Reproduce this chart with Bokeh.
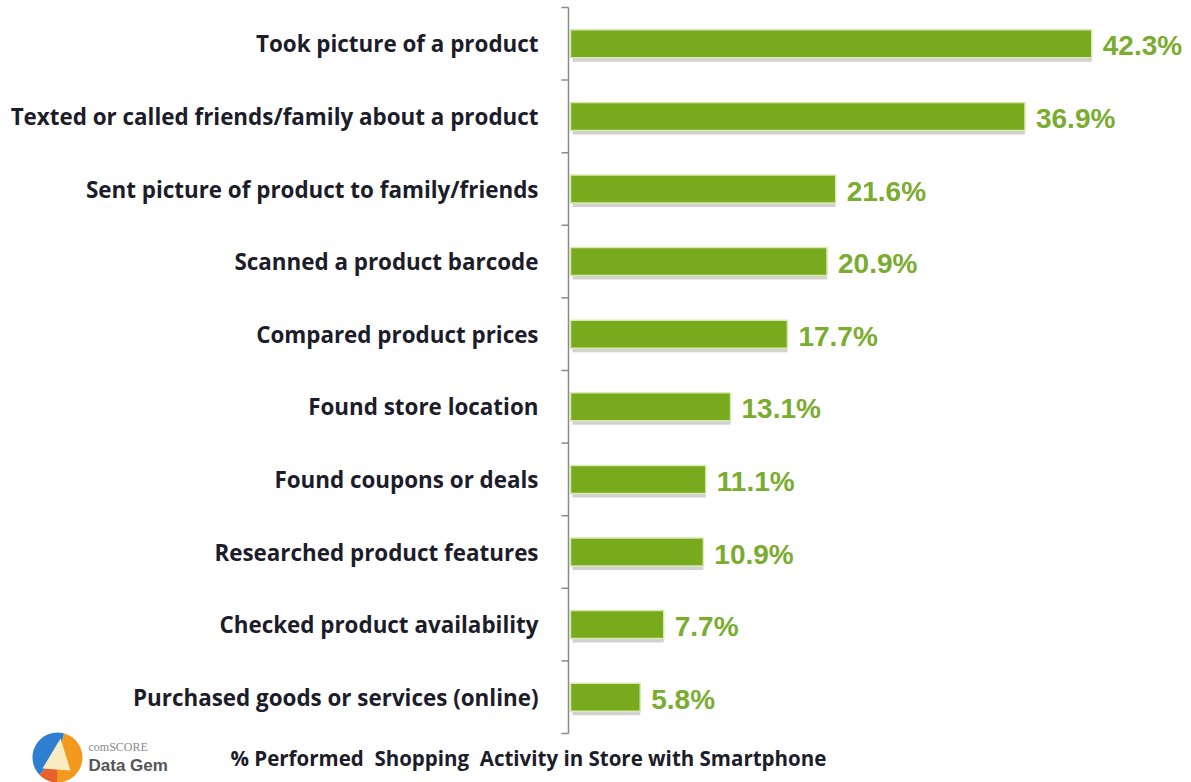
from bokeh.plotting import figure
from bokeh.models import Range1d, ColumnDataSource
from bokeh.core.properties import value
from bokeh.embed import file_html
from bokeh.resources import INLINE

categories = [
    "Took picture of a product",
    "Texted or called friends/family about a product",
    "Sent picture of product to family/friends",
    "Scanned a product barcode",
    "Compared product prices",
    "Found store location",
    "Found coupons or deals",
    "Researched product features",
    "Checked product availability",
    "Purchased goods or services (online)",
]
values = [42.3, 36.9, 21.6, 20.9, 17.7, 13.1, 11.1, 10.9, 7.7, 5.8]
caption = "% Performed\u00a0 Shopping\u00a0 Activity in Store with Smartphone"

W, H = 1191, 782
AX_PX = 568.0           # x pixel of value 0
PX_PER_UNIT = 12.37     # pixels per percentage point
TOP_PX, BOT_PX = 7.0, 733.0
n = len(categories)
ROW = (BOT_PX - TOP_PX) / n

def dx(px):
    return (px - AX_PX) / PX_PER_UNIT

def dy(py):
    return (BOT_PX - py) / ROW

p = figure(width=W, height=H, output_backend="svg", toolbar_location=None,
           x_range=Range1d(dx(0), dx(W)), y_range=Range1d(dy(H), dy(0)),
           min_border=0, min_border_left=0, min_border_right=0,
           min_border_top=0, min_border_bottom=0)
p.axis.visible = False
p.grid.visible = False
p.outline_line_color = None
p.background_fill_color = "white"
p.border_fill_color = "white"

ys = [n - i - 0.5 for i in range(n)]
src = ColumnDataSource(dict(y=ys, v=values, cat=categories,
                            lab=[f"{v:.1f}%" for v in values],
                            ys=[y - 4 / ROW for y in ys],
                            ly=[y - 2 / ROW for y in ys],
                            lx=[v + 11 / PX_PER_UNIT for v in values]))

bar_h = 28 / ROW
left0 = dx(AX_PX + 2)
# shadow
p.hbar(y="ys", right="v", left=dx(AX_PX + 4), height=bar_h, source=src,
       fill_color="#9a9a9a", fill_alpha=0.45, line_color=None)
# bars
p.hbar(y="y", right="v", left=left0, height=bar_h, source=src,
       fill_color="#78AA1E", line_color="#d8eab0", line_width=1.5)

# value labels
p.text(x="lx", y="ly", text="lab", source=src, text_font=value("Liberation Sans"),
       text_font_style="bold", text_font_size="28px", text_color="#7aac2f",
       text_baseline="middle", text_align="left")

# category labels
p.text(x=dx(538), y="y", text="cat", source=src, text_font=value("Open Sans"),
       text_font_style="bold", text_font_size="22.4px", text_color="#1c1c2a",
       text_baseline="middle", text_align="right")

# axis line & ticks
p.segment(x0=[0], y0=[0], x1=[0], y1=[n], line_color="#8a8a8a", line_width=1.5)
tick_y = list(range(n + 1))
p.segment(x0=[dx(AX_PX - 7)] * len(tick_y), y0=tick_y, x1=[0] * len(tick_y), y1=tick_y,
          line_color="#8a8a8a", line_width=1.5)

# caption
p.text(x=[dx(230)], y=[dy(757)], text=[caption], text_font=value("Open Sans"),
       text_font_style="bold", text_font_size="20.5px", text_color="#1c1c2a",
       text_baseline="middle", text_align="left")

# logo
cx, cy = dx(57), dy(757)
p.wedge(x=[cx], y=[cy], radius=25, radius_units="screen", start_angle=1.3, end_angle=3.9,
        fill_color="#2f7fd0", line_color=None)
p.wedge(x=[cx], y=[cy], radius=25, radius_units="screen", start_angle=-1.6, end_angle=1.3,
        fill_color="#f39a1e", line_color=None)
p.wedge(x=[cx], y=[cy], radius=25, radius_units="screen", start_angle=3.9, end_angle=4.7,
        fill_color="#e8602a", line_color=None)
p.patch(x=[dx(42), dx(70), dx(60)], y=[dy(768), dy(770), dy(738)],
        fill_color="#f7ecc4", line_color=None)
p.text(x=[dx(88)], y=[dy(746)], text=["comSCORE"], text_font=value("Liberation Serif"),
       text_font_size="12px", text_color="#8a8a8a", text_baseline="middle")
p.text(x=[dx(88)], y=[dy(765)], text=["Data Gem"], text_font=value("Liberation Sans"),
       text_font_style="bold", text_font_size="17px", text_color="#555555",
       text_baseline="middle")

open("out.html", "w").write(file_html(p, INLINE))
